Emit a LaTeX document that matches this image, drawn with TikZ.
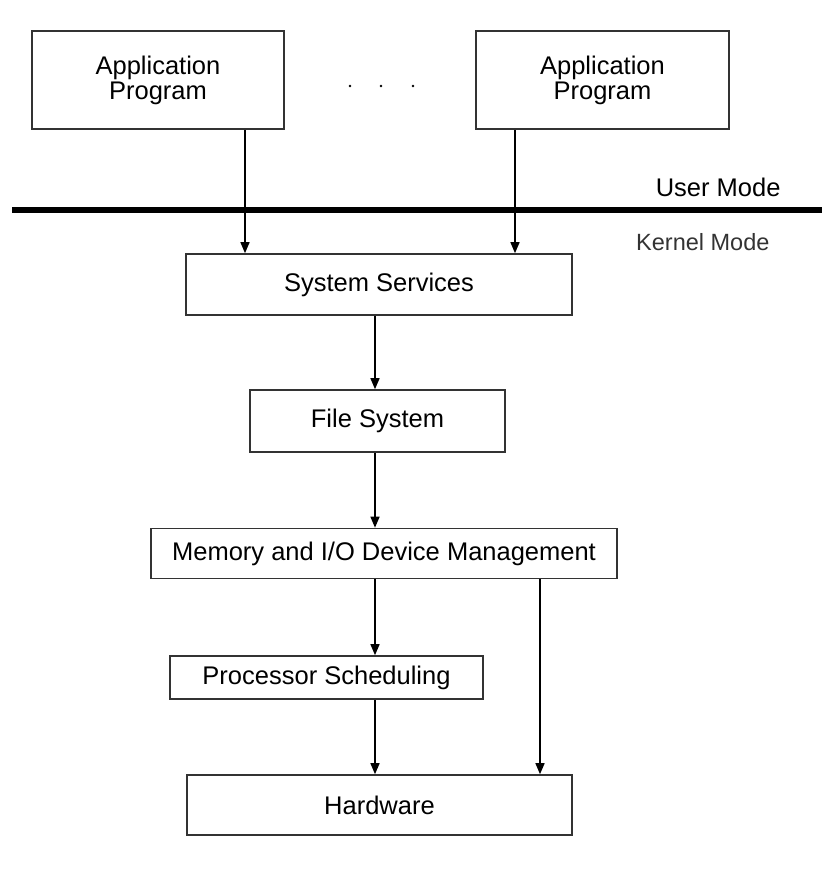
\documentclass[tikz,border=0pt]{standalone}
\usepackage{fontspec}
\setmainfont{Liberation Sans}
\usetikzlibrary{arrows.meta}

\begin{document}
\begin{tikzpicture}[x=1pt, y=-1pt,
        layer/.style={draw=black!80, line width=1.6pt, inner sep=0pt, align=center, font=\fontsize{25.5}{25}\selectfont},
        call/.style={line width=1.4pt, -{Triangle[length=11pt,width=9pt]}}]
            \useasboundingbox (0,0) rectangle (838,880);
            % user side
            \node[layer, minimum width=252pt, minimum height=98pt] (app1) at (158,80) {Application\\Program};
            \node[layer, minimum width=253pt, minimum height=98pt] (app2) at (602.5,80) {Application\\Program};
            \foreach \x in {350,381,413}{
                \fill (\x,86) circle (1.4pt);
            }
            \draw[line width=6pt] (12,210) -- (822,210);
            \node[anchor=east, font=\fontsize{25.5}{28}\selectfont] (user) at (784,187) {User Mode};
            \node[anchor=east, text=black!80, font=\fontsize{23.5}{26}\selectfont] (kernel) at (773,242) {Kernel Mode};
            % kernel layers
            \node[layer, minimum width=386pt, minimum height=61pt] (services) at (379,284.5) {System Services};
            \node[layer, minimum width=255pt, minimum height=62pt] (files) at (377.5,421) {File System};
            \node[layer, minimum width=466pt, minimum height=50pt] (memory) at (384,553.5) {Memory and I/O Device Management};
            \node[layer, minimum width=313pt, minimum height=43pt] (sched) at (326.5,677.5) {Processor Scheduling};
            \node[layer, minimum width=385pt, minimum height=60pt] (hw) at (379.5,805) {Hardware};
            \coordinate (left) at (245,0);
            \coordinate (right) at (515,0);
            \coordinate (spine) at (375,0);
            \coordinate (side) at (540,0);
            \draw[call] (app1.south -| left) -- (services.north -| left);
            \draw[call] (app2.south -| right) -- (services.north -| right);
            \draw[call] (services.south -| spine) -- (files.north -| spine);
            \draw[call] (files.south -| spine) -- (memory.north -| spine);
            \draw[call] (memory.south -| spine) -- (sched.north -| spine);
            \draw[call] (sched.south -| spine) -- (hw.north -| spine);
            \draw[call] (memory.south -| side) -- (hw.north -| side);
        \end{tikzpicture}
\end{document}
